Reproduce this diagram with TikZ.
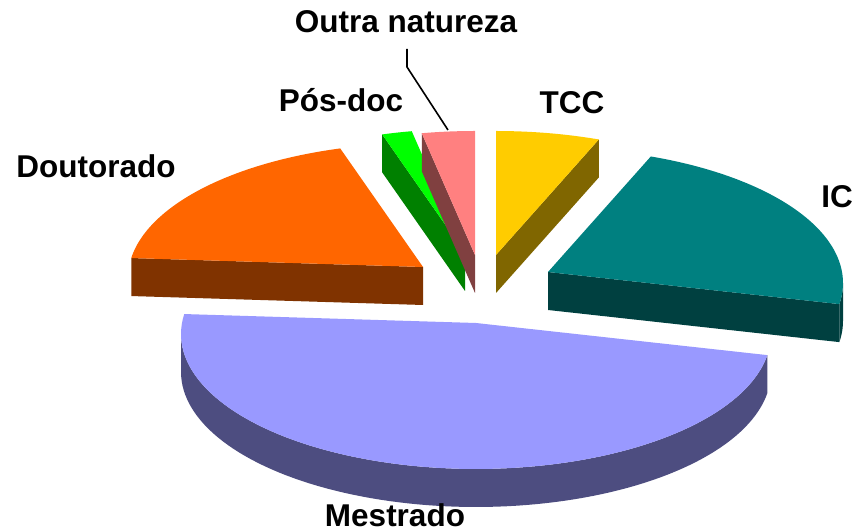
\documentclass[tikz,border=0pt]{standalone}
\usepackage{fontspec}
\setmainfont{Liberation Sans}
\usetikzlibrary{calc}
\definecolor{mestTop}{HTML}{9999FF}\definecolor{mestSide}{HTML}{4D4D80}
\definecolor{icTop}{HTML}{008080}\definecolor{icSide}{HTML}{004040}
\definecolor{tccTop}{HTML}{FFCC00}\definecolor{tccSide}{HTML}{806600}
\definecolor{outTop}{HTML}{FF8080}\definecolor{outSide}{HTML}{804040}
\definecolor{posTop}{HTML}{00FF00}\definecolor{posSide}{HTML}{008000}
\definecolor{douTop}{HTML}{FF6600}\definecolor{douSide}{HTML}{803300}
\def\prx{295}\def\pry{135}\def\phh{38}
% top face of a slice: apex x, apex y, start angle, end angle, colour
\newcommand\pieTopFace[5]{%
  \fill[#5] (#1,#2) -- plot[domain=#3:#4,samples=90,variable=\t]
    ({#1+\prx*cos(\t)},{#2-11+\pry*sin(\t)}) -- cycle;}
% radial cut face: apex x, apex y, angle, colour
\newcommand\pieCutFace[4]{%
  \fill[#4] (#1,#2) -- ({#1+\prx*cos(#3)},{#2-11+\pry*sin(#3)})
    -- ({#1+\prx*cos(#3)},{#2-11-\phh+\pry*sin(#3)}) -- (#1,#2-\phh) -- cycle;}
% outer rim: apex x, apex y, start angle, end angle, colour
\newcommand\pieRim[5]{%
  \fill[#5] plot[domain=#3:#4,samples=90,variable=\t]
    ({#1+\prx*cos(\t)},{#2-11+\pry*sin(\t)})
    -- plot[domain=#4:#3,samples=90,variable=\t]
    ({#1+\prx*cos(\t)},{#2-11-\phh+\pry*sin(\t)}) -- cycle;}
\begin{document}
\begin{tikzpicture}[x=1pt,y=1pt,
  lbl/.style={font=\fontsize{31.5}{37}\selectfont\bfseries, inner sep=0pt, anchor=base},
  leader/.style={draw=black, line width=1.6pt}]
\useasboundingbox (0,0) rectangle (860,532);
% TCC
\pieCutFace{496}{277}{69.6}{tccSide}
\pieTopFace{496}{277}{69.6}{90}{tccTop}
% Pos-doc
\pieCutFace{465}{279}{106.3}{posSide}
\pieTopFace{465}{279}{100.4}{106.3}{posTop}
% Outra natureza
\pieCutFace{475}{277}{100.4}{outSide}
\pieTopFace{475}{277}{90}{100.4}{outTop}
% IC
\pieCutFace{548}{260}{-9}{icSide}
\pieRim{548}{260}{-9}{0}{icSide}
\pieTopFace{548}{260}{-9}{69.6}{icTop}
% Doutorado
\pieCutFace{423}{265}{171.5}{douSide}
\pieTopFace{423}{265}{106.3}{171.5}{douTop}
% Mestrado
\pieRim{476}{209}{180}{351}{mestSide}
\pieTopFace{476}{209}{171.5}{351}{mestTop}
% labels
\node[lbl] (outra) at (406,499) {Outra natureza};
\node[lbl] (posdoc) at (341,420) {Pós-doc};
\node[lbl] (tcc) at (572,418) {TCC};
\node[lbl] (dout) at (96,354) {Doutorado};
\node[lbl] (ic) at (837,324) {IC};
\node[lbl] (mest) at (395,5) {Mestrado};
\coordinate (ltop) at (407,483);
\coordinate (lbend) at (407,465);
\coordinate (ltip) at (448,402);
\draw[leader] (ltop) -- (lbend) -- (ltip);
\end{tikzpicture}
\end{document}
